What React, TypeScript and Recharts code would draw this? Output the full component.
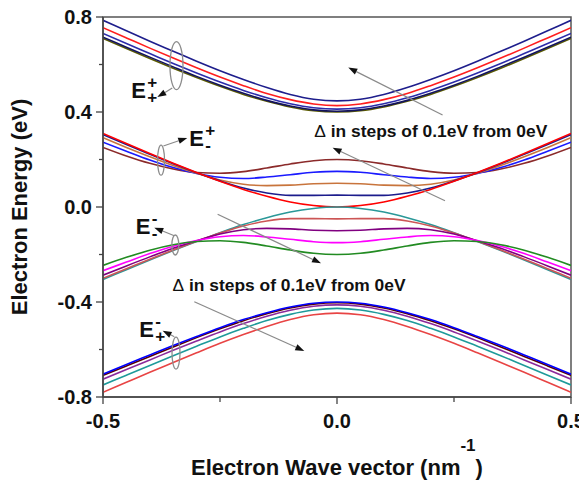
import React from 'react';
import { LineChart, Line, XAxis, YAxis, ReferenceDot, ReferenceLine, ReferenceArea } from 'recharts';

// wave vector k (nm^-1)
const K = [-0.5, -0.45, -0.4, -0.35, -0.3, -0.25, -0.2, -0.15, -0.1, -0.05, 0, 0.05, 0.1, 0.15, 0.2, 0.25, 0.3, 0.35, 0.4, 0.45, 0.5];

// E(+,+) upper conduction band, delta = 0 .. 0.4 eV
const H0 = [0.710, 0.667, 0.625, 0.584, 0.545, 0.508, 0.474, 0.445, 0.421, 0.405, 0.400, 0.405, 0.421, 0.445, 0.474, 0.508, 0.545, 0.584, 0.625, 0.667, 0.710];
const H1 = [0.715, 0.673, 0.631, 0.590, 0.550, 0.513, 0.479, 0.449, 0.425, 0.409, 0.403, 0.409, 0.425, 0.449, 0.479, 0.513, 0.550, 0.590, 0.631, 0.673, 0.715];
const H2 = [0.731, 0.688, 0.646, 0.604, 0.564, 0.526, 0.491, 0.460, 0.435, 0.418, 0.412, 0.418, 0.435, 0.460, 0.491, 0.526, 0.564, 0.604, 0.646, 0.688, 0.731];
const H3 = [0.755, 0.712, 0.669, 0.627, 0.586, 0.547, 0.511, 0.478, 0.452, 0.434, 0.427, 0.434, 0.452, 0.478, 0.511, 0.547, 0.586, 0.627, 0.669, 0.712, 0.755];
const H4 = [0.786, 0.742, 0.698, 0.656, 0.614, 0.574, 0.537, 0.503, 0.474, 0.454, 0.447, 0.454, 0.474, 0.503, 0.537, 0.574, 0.614, 0.656, 0.698, 0.742, 0.786];

// E(+,-) lower conduction band
const L0 = [0.310, 0.267, 0.225, 0.184, 0.145, 0.108, 0.074, 0.045, 0.021, 0.006, 0.000, 0.006, 0.021, 0.045, 0.074, 0.108, 0.145, 0.184, 0.225, 0.267, 0.310];
const L1 = [0.305, 0.263, 0.222, 0.182, 0.144, 0.110, 0.080, 0.059, 0.049, 0.049, 0.050, 0.049, 0.049, 0.059, 0.080, 0.110, 0.144, 0.182, 0.222, 0.263, 0.305];
const L2 = [0.292, 0.251, 0.212, 0.175, 0.142, 0.114, 0.096, 0.090, 0.092, 0.098, 0.100, 0.098, 0.092, 0.090, 0.096, 0.114, 0.142, 0.175, 0.212, 0.251, 0.292];
const L3 = [0.273, 0.235, 0.198, 0.166, 0.141, 0.125, 0.120, 0.126, 0.136, 0.146, 0.150, 0.146, 0.136, 0.126, 0.120, 0.125, 0.141, 0.166, 0.198, 0.235, 0.273];
const L4 = [0.251, 0.215, 0.184, 0.160, 0.145, 0.142, 0.149, 0.164, 0.181, 0.195, 0.200, 0.195, 0.181, 0.164, 0.149, 0.142, 0.145, 0.160, 0.184, 0.215, 0.251];

// E(-,-) upper valence band
const U0 = [-0.305, -0.264, -0.223, -0.183, -0.145, -0.108, -0.074, -0.045, -0.021, -0.006, 0.000, -0.006, -0.021, -0.045, -0.074, -0.108, -0.145, -0.183, -0.223, -0.264, -0.305];
const U1 = [-0.300, -0.260, -0.220, -0.181, -0.144, -0.110, -0.080, -0.059, -0.049, -0.049, -0.050, -0.049, -0.049, -0.059, -0.080, -0.110, -0.144, -0.181, -0.220, -0.260, -0.300];
const U2 = [-0.287, -0.248, -0.210, -0.174, -0.142, -0.114, -0.096, -0.090, -0.092, -0.098, -0.100, -0.098, -0.092, -0.090, -0.096, -0.114, -0.142, -0.174, -0.210, -0.248, -0.287];
const U3 = [-0.268, -0.232, -0.196, -0.165, -0.141, -0.125, -0.120, -0.126, -0.136, -0.146, -0.150, -0.146, -0.136, -0.126, -0.120, -0.125, -0.141, -0.165, -0.196, -0.232, -0.268];
const U4 = [-0.246, -0.212, -0.182, -0.159, -0.145, -0.142, -0.149, -0.164, -0.181, -0.195, -0.200, -0.195, -0.181, -0.164, -0.149, -0.142, -0.145, -0.159, -0.182, -0.212, -0.246];

// E(-,+) lower valence band
const V0 = [-0.704, -0.663, -0.623, -0.583, -0.545, -0.508, -0.474, -0.445, -0.421, -0.405, -0.400, -0.405, -0.421, -0.445, -0.474, -0.508, -0.545, -0.583, -0.623, -0.663, -0.704];
const V1 = [-0.709, -0.669, -0.629, -0.589, -0.550, -0.513, -0.479, -0.449, -0.425, -0.409, -0.403, -0.409, -0.425, -0.449, -0.479, -0.513, -0.550, -0.589, -0.629, -0.669, -0.709];
const V2 = [-0.725, -0.684, -0.644, -0.603, -0.564, -0.526, -0.491, -0.460, -0.435, -0.418, -0.412, -0.418, -0.435, -0.460, -0.491, -0.526, -0.564, -0.603, -0.644, -0.684, -0.725];
const V3 = [-0.749, -0.708, -0.667, -0.626, -0.586, -0.547, -0.511, -0.478, -0.452, -0.434, -0.427, -0.434, -0.452, -0.478, -0.511, -0.547, -0.586, -0.626, -0.667, -0.708, -0.749];
const V4 = [-0.780, -0.738, -0.696, -0.655, -0.614, -0.574, -0.537, -0.503, -0.474, -0.454, -0.447, -0.454, -0.474, -0.503, -0.537, -0.574, -0.614, -0.655, -0.696, -0.738, -0.780];

const Y_TICKS = [-0.8, -0.6, -0.4, -0.2, 0, 0.2, 0.4, 0.6, 0.8];
const X_TICKS = [-0.5, -0.25, 0, 0.25, 0.5];

const SERIES: { key: string; values: number[]; color: string }[] = [
  { key: 'h0', values: H0, color: '#5c5c00' },
  { key: 'h1', values: H1, color: '#12125e' },
  { key: 'h2', values: H2, color: '#2c2caa' },
  { key: 'h3', values: H3, color: '#ff1e1e' },
  { key: 'h4', values: H4, color: '#1e1e8c' },
  { key: 'l4', values: L4, color: '#8b2a2a' },
  { key: 'l3', values: L3, color: '#1a1aff' },
  { key: 'l2', values: L2, color: '#c8743c' },
  { key: 'l1', values: L1, color: '#1c1c8c' },
  { key: 'l0', values: L0, color: '#ff0000' },
  { key: 'u0', values: U0, color: '#2a9898' },
  { key: 'u1', values: U1, color: '#cc5555' },
  { key: 'u2', values: U2, color: '#800080' },
  { key: 'u3', values: U3, color: '#ff00ff' },
  { key: 'u4', values: U4, color: '#228b22' },
  { key: 'v4', values: V4, color: '#e84444' },
  { key: 'v3', values: V3, color: '#1e9a9a' },
  { key: 'v2', values: V2, color: '#8b2a9b' },
  { key: 'v1', values: V1, color: '#5a0000' },
  { key: 'v0', values: V0, color: '#0000ff' },
];

const data = K.map((k, i) => {
  const row: Record<string, number> = { k };
  SERIES.forEach((s) => {
    row[s.key] = s.values[i];
  });
  return row;
});

const FONT = '"Liberation Sans", Arial, Helvetica, sans-serif';

// annotations (data coordinates)
const ELLIPSES = [
  { k: -0.343, e: 0.595, rx: 6.5, ry: 24 },
  { k: -0.376, e: 0.197, rx: 3.5, ry: 15 },
  { k: -0.3455, e: -0.16, rx: 3.5, ry: 10 },
  { k: -0.344, e: -0.615, rx: 4, ry: 16 },
];

const ARROWS = [
  { k1: -0.352, e1: 0.501, k2: -0.384, e2: 0.463 },
  { k1: 0.2256, e1: 0.387, k2: 0.0241, e2: 0.587 },
  { k1: 0.2308, e1: 0.0265, k2: -0.0094, e2: 0.2497 },
  { k1: -0.371, e1: 0.257, k2: -0.32, e2: 0.291 },
  { k1: -0.3477, e1: -0.121, k2: -0.3904, e2: -0.087 },
  { k1: -0.2551, e1: -0.0307, k2: -0.0342, e2: -0.237 },
  { k1: -0.3049, e1: -0.3987, k2: -0.0699, e2: -0.606 },
  { k1: -0.3477, e1: -0.546, k2: -0.3726, e2: -0.521 },
];

const E_LABELS = [
  { k: -0.4395, e: 0.4577, sup: '+', sub: '+' },
  { k: -0.3156, e: 0.2568, sup: '+', sub: '-' },
  { k: -0.4302, e: -0.1137, sup: '-', sub: '-' },
  { k: -0.4224, e: -0.546, sup: '-', sub: '+' },
];

const DELTA_TEXTS = [
  { k: -0.0485, e: 0.2935 },
  { k: -0.3513, e: -0.3524 },
];

const ArrowShape = (props: any) => {
  const { x1, y1, x2, y2 } = props;
  const dx = x2 - x1;
  const dy = y2 - y1;
  const len = Math.hypot(dx, dy) || 1;
  const ux = dx / len;
  const uy = dy / len;
  const hl = 9;
  const hw = 3.2;
  const bx = x2 - ux * hl;
  const by = y2 - uy * hl;
  const pts = `${x2},${y2} ${bx - uy * hw},${by + ux * hw} ${bx + uy * hw},${by - ux * hw}`;
  return (
    <g>
      <line x1={x1} y1={y1} x2={bx} y2={by} stroke="#8a8a8a" strokeWidth={1.2} />
      <polygon points={pts} fill="#111" />
    </g>
  );
};

const YTick = (props: any) => {
  const { x, y, payload } = props;
  const v = payload.value;
  const major = Math.abs(Math.round(v * 10) % 4) === 0;
  return (
    <g>
      <line x1={x - (major ? 7 : 4)} y1={y} x2={x} y2={y} stroke="#444" strokeWidth={1.3} />
      {major && (
        <text x={x - 11} y={y + 7} textAnchor="end" fontFamily={FONT} fontWeight="bold" fontSize={20} fill="#111">
          {v.toFixed(1)}
        </text>
      )}
    </g>
  );
};

const XTick = (props: any) => {
  const { x, y, payload } = props;
  const v = payload.value;
  const major = Math.abs(Math.round(v * 100) % 50) === 0;
  return (
    <g>
      <line x1={x} y1={y} x2={x} y2={y + (major ? 7 : 5)} stroke="#444" strokeWidth={1.3} />
      {major && (
        <text x={x} y={y + 31} textAnchor="middle" fontFamily={FONT} fontWeight="bold" fontSize={20} fill="#111">
          {v.toFixed(1)}
        </text>
      )}
    </g>
  );
};

const XTitle = (props: any) => {
  const vb = props.viewBox || {};
  const cx = vb.x + vb.width / 2;
  return (
    <text x={cx} y={467} textAnchor="middle" fontFamily={FONT} fontWeight="bold" fontSize={22} fill="#111">
      Electron Wave vector (nm
      <tspan dy={-24} fontSize={17}>-1</tspan>
      <tspan dy={24}>)</tspan>
    </text>
  );
};

const YTitle = (props: any) => {
  const vb = props.viewBox || {};
  const cy = vb.y + vb.height / 2;
  return (
    <text
      x={19}
      y={cy}
      transform={`rotate(-90, 19, ${cy})`}
      textAnchor="middle"
      fontFamily={FONT}
      fontWeight="bold"
      fontSize={22}
      fill="#111"
    >
      Electron Energy (eV)
    </text>
  );
};

export default function App() {
  return (
    <div style={{ width: 579, height: 474, background: '#fff' }}>
      <LineChart
        width={579}
        height={474}
        data={data}
        margin={{ top: 9, right: 16, bottom: 55, left: 35 }}
      >
        <XAxis
          dataKey="k"
          type="number"
          domain={[-0.5, 0.5]}
          ticks={X_TICKS}
          interval={0}
          height={30}
          tickSize={0}
          tickMargin={0}
          tickLine={false}
          tick={<XTick />}
          axisLine={{ stroke: '#444', strokeWidth: 1.5 }}
          allowDataOverflow
          label={{ content: <XTitle /> } as any}
        />
        <YAxis
          type="number"
          domain={[-0.8, 0.8]}
          ticks={Y_TICKS}
          interval={0}
          width={60}
          tickSize={0}
          tickMargin={0}
          tickLine={false}
          tick={<YTick />}
          axisLine={{ stroke: '#444', strokeWidth: 1.5 }}
          allowDataOverflow
          label={{ content: <YTitle /> } as any}
        />
        <ReferenceArea x1={-0.5} x2={0.5} y1={-0.8} y2={0.8} fill="none" stroke="#555" strokeWidth={1.5} ifOverflow="visible" />
        {SERIES.map((s) => (
          <Line
            key={s.key}
            dataKey={s.key}
            type="monotone"
            stroke={s.color}
            strokeWidth={1.6}
            dot={false}
            activeDot={false}
            isAnimationActive={false}
          />
        ))}
        {ELLIPSES.map((el, i) => (
          <ReferenceDot
            key={'el' + i}
            x={el.k}
            y={el.e}
            r={1}
            ifOverflow="visible"
            shape={(p: any) => (
              <ellipse cx={p.cx} cy={p.cy} rx={el.rx} ry={el.ry} fill="none" stroke="#8c8c8c" strokeWidth={1.3} />
            )}
          />
        ))}
        {ARROWS.map((a, i) => (
          <ReferenceLine
            key={'ar' + i}
            segment={[{ x: a.k1, y: a.e1 }, { x: a.k2, y: a.e2 }]}
            ifOverflow="visible"
            shape={ArrowShape}
          />
        ))}
        {E_LABELS.map((l, i) => (
          <ReferenceDot
            key={'lb' + i}
            x={l.k}
            y={l.e}
            r={1}
            ifOverflow="visible"
            shape={(p: any) => (
              <text x={p.cx} y={p.cy} fontFamily={FONT} fontWeight="bold" fill="#111" fontSize={22}>
                E
                <tspan x={p.cx + 16} dy={-10} fontSize={17}>{l.sup}</tspan>
                <tspan x={p.cx + 16} dy={15} fontSize={17}>{l.sub}</tspan>
              </text>
            )}
          />
        ))}
        {DELTA_TEXTS.map((d, i) => (
          <ReferenceDot
            key={'dt' + i}
            x={d.k}
            y={d.e}
            r={1}
            ifOverflow="visible"
            shape={(p: any) => (
              <text x={p.cx} y={p.cy} fontFamily={FONT} fontWeight="bold" fontSize={17.4} fill="#111">
                <tspan fontWeight="normal">Δ</tspan> in steps of 0.1eV from 0eV
              </text>
            )}
          />
        ))}
      </LineChart>
    </div>
  );
}
